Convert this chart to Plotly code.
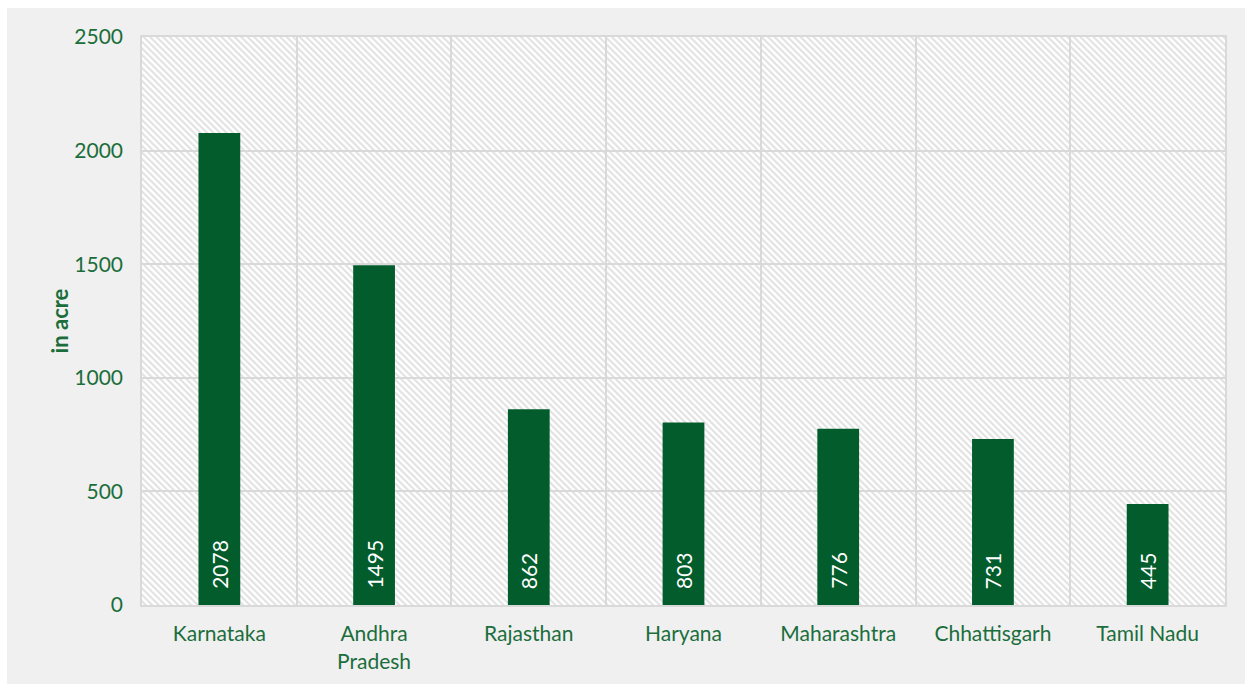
import base64
import plotly.graph_objects as go

states = ["Karnataka", "Andhra<br>Pradesh", "Rajasthan", "Haryana",
          "Maharashtra", "Chhattisgarh", "Tamil Nadu"]
acres = [2078, 1495, 862, 803, 776, 731, 445]
y_ticks = [0, 500, 1000, 1500, 2000, 2500]

BAR_GREEN = "#035c2c"
TEXT_GREEN = "#1b6e3c"
GRID = "#d9d9d9"
FONT = "Lato, 'DejaVu Sans', sans-serif"
FS = 21

W, H = 1246, 684
M_L, M_R, M_T, M_B = 142, 21, 37, 79
PW, PH = W - M_L - M_R, H - M_T - M_B

# diagonal hatch used as the plot-area backdrop
svg = (
    f'<svg xmlns="http://www.w3.org/2000/svg" width="{PW}" height="{PH}">'
    '<defs><pattern id="h" width="4.6" height="4.6" patternUnits="userSpaceOnUse" '
    'patternTransform="rotate(-45)">'
    '<rect width="4.6" height="4.6" fill="#ffffff"/>'
    '<line x1="1.2" y1="0" x2="1.2" y2="4.6" stroke="#dedede" stroke-width="1.9"/>'
    '</pattern></defs>'
    f'<rect width="{PW}" height="{PH}" fill="url(#h)"/></svg>'
)
hatch_src = "data:image/svg+xml;base64," + base64.b64encode(svg.encode()).decode()

fig = go.Figure()
fig.add_trace(go.Bar(
    x=states, y=acres, width=0.27,
    marker=dict(color=BAR_GREEN, line=dict(width=0)),
    hoverinfo="x+y",
))

for s, v in zip(states, acres):
    fig.add_annotation(
        x=s, y=0, text=str(v), showarrow=False, textangle=-90,
        yanchor="bottom", yshift=14,
        font=dict(family=FONT, size=FS, color="#ffffff"),
    )

fig.add_layout_image(
    source=hatch_src, xref="x", yref="y", x=-0.5, y=2500,
    sizex=7, sizey=2500, sizing="stretch", layer="below",
    xanchor="left", yanchor="top",
)

# light grey panel behind the whole chart
fig.add_shape(
    type="rect", xref="paper", yref="paper", layer="below",
    x0=(7 - M_L) / PW, x1=(1245 - M_L) / PW,
    y0=-(H - M_T - PH) / PH - 0.01, y1=(M_T - 8) / PH + 1,
    fillcolor="#f0f0f0", line=dict(width=0),
)

fig.update_layout(
    width=W, height=H,
    margin=dict(l=M_L, r=M_R, t=M_T, b=M_B),
    paper_bgcolor="#ffffff",
    plot_bgcolor="rgba(0,0,0,0)",
    showlegend=False,
    font=dict(family=FONT, size=FS, color=TEXT_GREEN),
    xaxis=dict(
        type="category", range=[-0.5, 6.5], tickson="boundaries",
        automargin=False,
        showgrid=True, gridcolor=GRID, gridwidth=1.5,
        showline=True, linecolor=GRID, linewidth=2, mirror=True,
        ticks="", ticklabelstandoff=9,
        tickfont=dict(family=FONT, size=FS, color=TEXT_GREEN),
    ),
    yaxis=dict(
        range=[0, 2500], tickvals=y_ticks, automargin=False,
        showgrid=True, gridcolor=GRID, gridwidth=1.5,
        showline=True, linecolor=GRID, linewidth=1.5, mirror=True,
        zeroline=False, ticks="outside", ticklen=13, tickcolor="rgba(0,0,0,0)",
        tickfont=dict(family=FONT, size=FS, color=TEXT_GREEN),
        title=dict(text="<b>in acre</b>", standoff=0,
                   font=dict(family=FONT, size=22, color=TEXT_GREEN)),
    ),
)

fig.write_html("out.html")
